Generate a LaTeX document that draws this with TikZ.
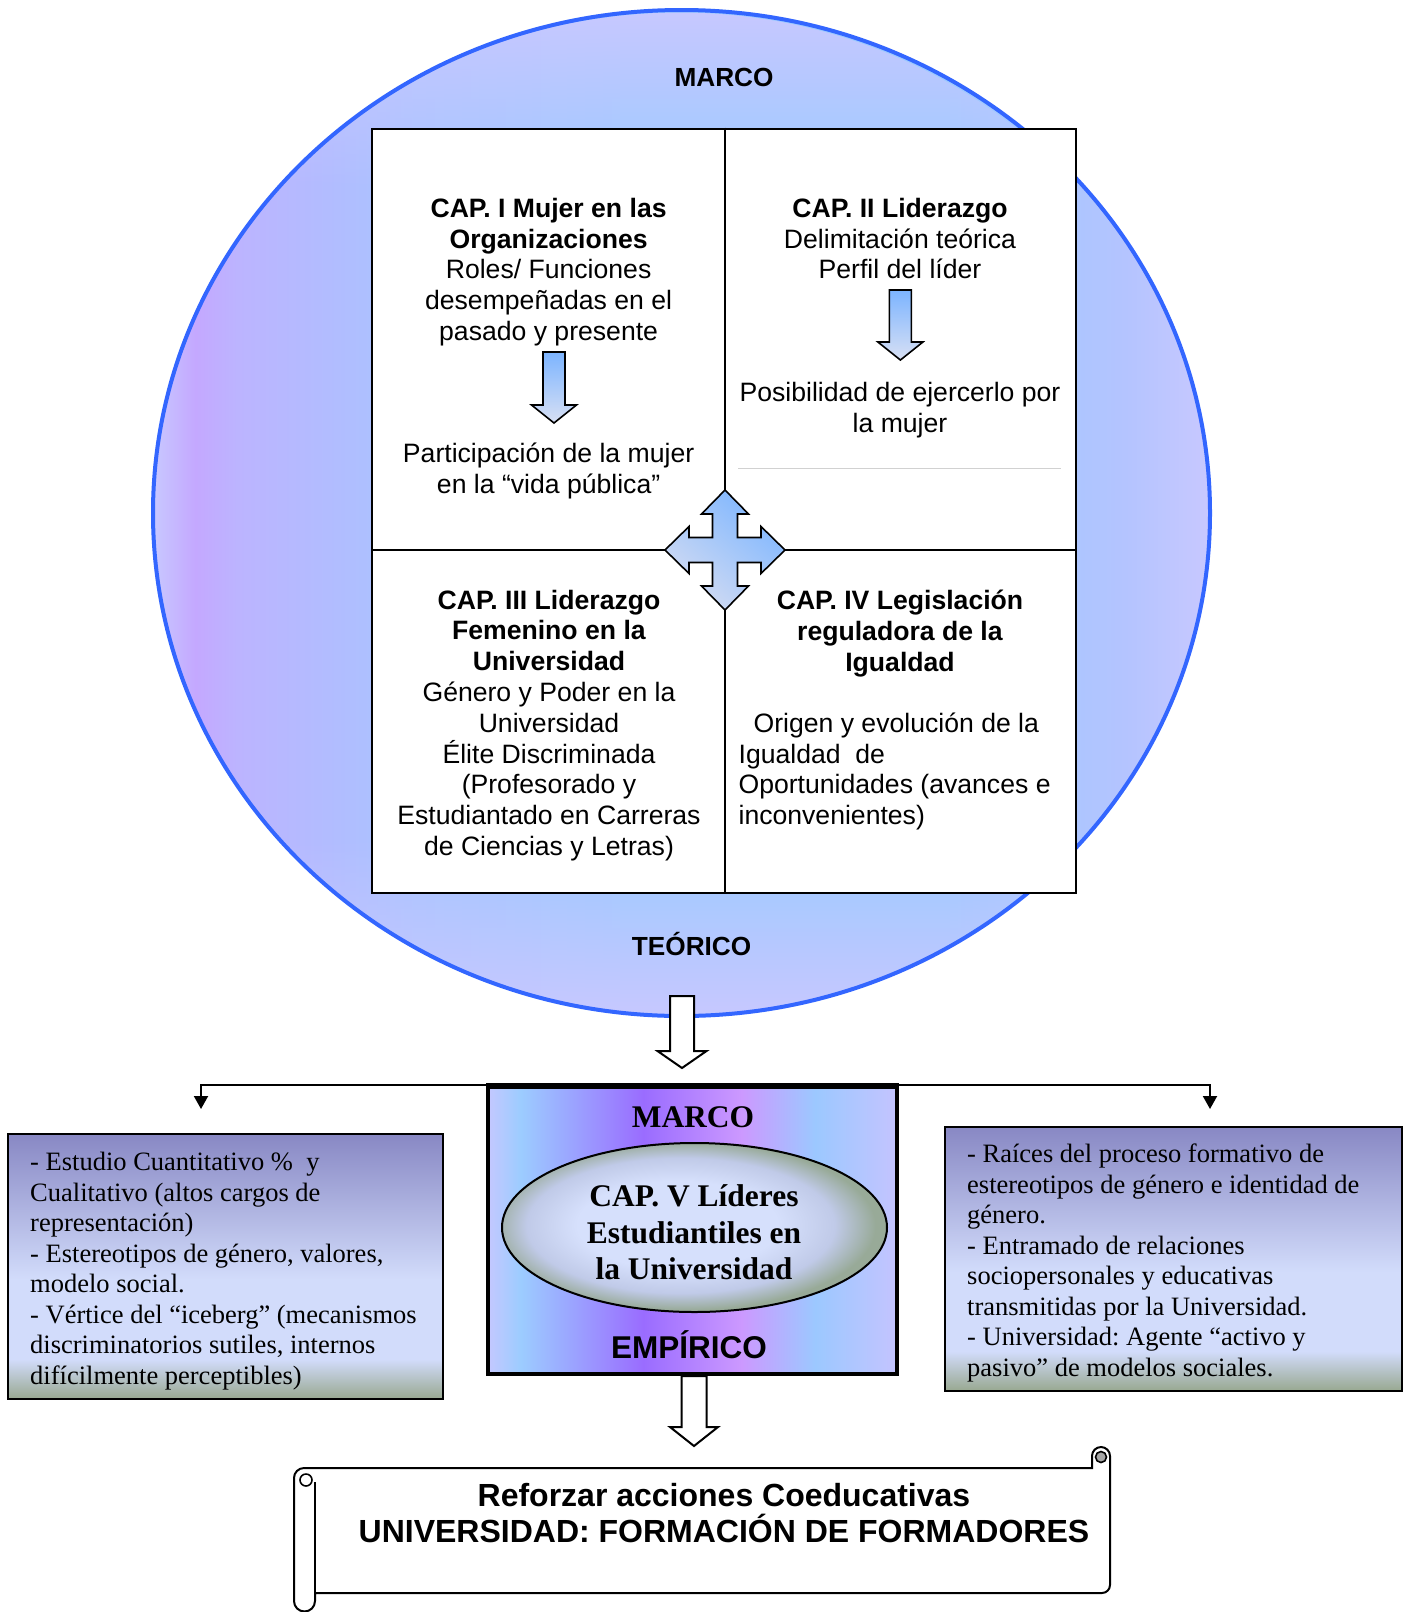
\documentclass[tikz,border=0pt]{standalone}
\usepackage{fontspec}
\setmainfont{Liberation Serif}
\newfontfamily\arialf{Liberation Sans}
\usetikzlibrary{shapes.geometric,arrows.meta,fadings}
\frenchspacing

% colours
\definecolor{rim}{HTML}{3366FF}
\definecolor{lavd}{HTML}{C8C8FF}
\definecolor{vio}{HTML}{C4A8FF}
\definecolor{vioa}{HTML}{BCB4FF}
\definecolor{blua}{HTML}{A8C4FF}
\definecolor{blub}{HTML}{9CCAFF}
\definecolor{bluc}{HTML}{B4C4FF}
\definecolor{eza}{HTML}{C4C8FF}
\definecolor{ezb}{HTML}{9CCCFF}
\definecolor{ezc}{HTML}{9A6CFF}
\definecolor{ezd}{HTML}{CC99FF}
\definecolor{eze}{HTML}{9CC8FF}
\definecolor{ezf}{HTML}{C4C4FF}
\definecolor{sda}{HTML}{98A890}
\definecolor{sdb}{HTML}{D2DCFB}
\definecolor{sdc}{HTML}{8888C4}
\definecolor{cpa}{HTML}{D6E0FC}
\definecolor{cpb}{HTML}{C0CAE8}
\definecolor{cpc}{HTML}{98AA98}
\definecolor{arrtop}{HTML}{7CB4FF}
\definecolor{arrbot}{HTML}{D8E0F4}
\definecolor{crlight}{HTML}{D4DCF2}
\definecolor{crblue}{HTML}{7EB6FF}

% background ring of the theoretical frame
\pgfdeclarehorizontalshading{marcoshade}{100bp}{color(0bp)=(lavd); color(25bp)=(lavd);
  color(27bp)=(vio); color(29bp)=(vioa); color(37.5bp)=(blua); color(47.5bp)=(blub);
  color(62.5bp)=(blub); color(71bp)=(bluc); color(75bp)=(lavd); color(100bp)=(lavd)}
\pgfdeclareverticalshading{marcofadeshade}{100bp}{color(0bp)=(white); color(25bp)=(white);
  color(34bp)=(black); color(66bp)=(black); color(75bp)=(white); color(100bp)=(white)}
\pgfdeclarefading{marcofade}{\pgfuseshading{marcofadeshade}}
% empirical frame box
\pgfdeclarehorizontalshading{empshade}{100bp}{color(0bp)=(eza); color(25bp)=(eza);
  color(29bp)=(ezb); color(44bp)=(ezc); color(56bp)=(ezd); color(65bp)=(eze);
  color(75bp)=(ezf); color(100bp)=(ezf)}
% side boxes
\pgfdeclareverticalshading{sideshade}{100bp}{color(0bp)=(sda); color(25bp)=(sda);
  color(32.5bp)=(sdb); color(47.5bp)=(sdb); color(75bp)=(sdc); color(100bp)=(sdc)}
% chapter V ellipse
\pgfdeclareradialshading{capshade}{\pgfpoint{-3bp}{1bp}}{color(0bp)=(cpa); color(13bp)=(cpa);
  color(20bp)=(cpb); color(25bp)=(cpc); color(50bp)=(cpc)}

\begin{document}
\begin{tikzpicture}[x=1pt,y=-1pt,
  celltxt/.style={font=\arialf\fontsize{26.6}{30.8}\selectfont, align=center, inner sep=0},
  celltxtl/.style={font=\arialf\fontsize{26.6}{30.8}\selectfont, align=left, inner sep=0},
  headsans/.style={font=\arialf\bfseries\fontsize{26.2}{30}\selectfont, inner sep=0},
  sidetxt/.style={font=\fontsize{26.5}{30.5}\selectfont, align=left, inner sep=0},
  sidebox/.style={draw, line width=2, shading=sideshade, inner sep=0},
  bluearrow/.style={draw, line width=1.6, top color=arrtop, bottom color=arrbot},
  whitearrow/.style={draw, line width=2, fill=white},
  conn/.style={line width=2, -{Triangle[width=14,length=13]}}]
\useasboundingbox (0,0) rectangle (1411,1612);

% ---------- theoretical frame (ellipse) ----------
\path[shading=marcoshade] (681.5,513) ellipse [x radius=528.5, y radius=503];
\fill[lavd, path fading=marcofade] (681.5,513) ellipse [x radius=528.5, y radius=503];
\draw[rim, line width=4] (681.5,513) ellipse [x radius=528.5, y radius=503];

\node[headsans, anchor=base] (marcoA) at (724,86.3) {MARCO};
\node[headsans, anchor=base] (teorico) at (691.6,955.5) {TEÓRICO};

% ---------- chapter table ----------
\node[draw, line width=2, fill=white, minimum width=703.4, minimum height=764, inner sep=0]
  (tbl) at (724,510.6) {};
\coordinate (mx) at (725,550);
\draw[line width=2] (tbl.north -| mx) -- (tbl.south -| mx);
\draw[line width=2] (tbl.west |- mx) -- (tbl.east |- mx);
\draw[black!18, line width=0.8] (738,468) -- (1061,468);

\node[celltxt] (c1a) at (548.6,272) {\textbf{CAP. I Mujer en las}\\\textbf{Organizaciones}\\Roles/ Funciones\\desempeñadas en el\\pasado y presente};
\node[celltxt] (c1b) at (548.6,471) {Participación de la mujer\\en la “vida pública”};
\node[celltxt] (c2a) at (900,238.5) {\textbf{CAP. II Liderazgo}\\Delimitación teórica\\Perfil del líder};
\node[celltxt] (c2b) at (900,410.5) {Posibilidad de ejercerlo por\\la mujer};
\node[celltxt] (c3) at (549,725.5) {\textbf{CAP. III Liderazgo}\\\textbf{Femenino en la}\\\textbf{Universidad}\\Género y Poder en la\\Universidad\\Élite Discriminada\\(Profesorado y\\Estudiantado en Carreras\\de Ciencias y Letras)};
\node[celltxt] (c4a) at (900,633.5) {\textbf{CAP. IV Legislación}\\\textbf{reguladora de la}\\\textbf{Igualdad}};
\node[celltxtl, anchor=west] (c4b) at (738.4,771.5) {\hspace*{15pt}Origen y evolución de la\\Igualdad\ \ de\\Oportunidades (avances e\\inconvenientes)};

% small arrows inside the upper cells
\path[bluearrow] (543,352) -- (565,352) -- (565,405) -- (576.5,405) -- (554,423)
  -- (531.5,405) -- (543,405) -- cycle;
\path[bluearrow] (889.4,290) -- (911.4,290) -- (911.4,342) -- (922.9,342) -- (900.4,360)
  -- (877.9,342) -- (889.4,342) -- cycle;

% four-way arrow at the table centre
\shade[draw, line width=1.6, top color=crblue, bottom color=crlight, shading angle=-40,
  shift={(mx)}]
  (0,-60) -- (23.5,-36) -- (12.5,-36) -- (12.5,-12.5) -- (36,-12.5) -- (36,-23.5)
  -- (60,0) -- (36,23.5) -- (36,12.5) -- (12.5,12.5) -- (12.5,36) -- (23.5,36)
  -- (0,60) -- (-23.5,36) -- (-12.5,36) -- (-12.5,12.5) -- (-36,12.5) -- (-36,23.5)
  -- (-60,0) -- (-36,-23.5) -- (-36,-12.5) -- (-12.5,-12.5) -- (-12.5,-36)
  -- (-23.5,-36) -- cycle;

% ---------- arrow down to the empirical frame ----------
\path[whitearrow] (670,996) -- (694,996) -- (694,1051) -- (706.5,1051) -- (682,1068)
  -- (657.5,1051) -- (670,1051) -- cycle;

% ---------- empirical frame ----------
\coordinate (lt) at (201,1109);
\coordinate (rt) at (1210,1109);
\node[draw, line width=4, shading=empshade, minimum width=409, minimum height=287, inner sep=0]
  (emp) at (692.5,1230.5) {};
\draw[conn] (emp.north) -| (lt);
\draw[conn] (emp.north) -| (rt);
\draw[line width=4] (emp.north west) -- (emp.north east);

\node[font=\bfseries\fontsize{31.5}{36}\selectfont, inner sep=0, anchor=base] (marcoB) at (693,1127.5) {MARCO};
\node[draw, line width=2, ellipse, shading=capshade, minimum width=385, minimum height=169, inner sep=0]
  (cap5) at (694.5,1227.5) {};
\node[font=\bfseries\fontsize{31.5}{36.5}\selectfont, align=center, inner sep=0] (cap5t) at (694,1232.5)
  {CAP. V Líderes\\Estudiantiles en\\la Universidad};
\node[font=\arialf\bfseries\fontsize{31.5}{36}\selectfont, inner sep=0, anchor=base] (empir) at (689,1358.3) {EMPÍRICO};

% ---------- side boxes ----------
\node[sidebox, minimum width=435, minimum height=265] (lbox) at (225.5,1266.5) {};
\node[sidetxt, anchor=west] (ltxt) at (30,1271) {- Estudio Cuantitativo \%\ \ y\\Cualitativo (altos cargos de\\representación)\\- Estereotipos de género, valores,\\modelo social.\\- Vértice del “iceberg” (mecanismos\\discriminatorios sutiles, internos\\difícilmente perceptibles)};

\node[sidebox, minimum width=457, minimum height=264] (rbox) at (1173.5,1259) {};
\node[sidetxt, anchor=west] (rtxt) at (967,1263) {- Raíces del proceso formativo de\\estereotipos de género e identidad de\\género.\\- Entramado de relaciones\\sociopersonales y educativas\\transmitidas por la Universidad.\\- Universidad: Agente “activo y\\pasivo” de modelos sociales.};

% ---------- arrow down to the scroll ----------
\path[whitearrow] (681.5,1376) -- (706.5,1376) -- (706.5,1427) -- (718,1427) -- (694,1446)
  -- (670,1427) -- (681.5,1427) -- cycle;

% ---------- closing scroll ----------
\draw[line width=2, fill=white] (294,1601) -- (294,1478) arc[start angle=180, end angle=270, radius=10]
  -- (1092,1468) -- (1092,1456) arc[start angle=180, end angle=360, radius=9]
  -- (1110,1585) arc[start angle=0, end angle=90, radius=8]
  -- (315,1593) -- (315,1601) arc[start angle=0, end angle=180, radius=10.5] -- cycle;
\draw[line width=2] (315,1593) -- (315,1482);
\draw[line width=1.6] (306,1480) circle (6);
\draw[line width=1.6, fill=black!35] (1101,1457) circle (5.5);

\node[font=\arialf\bfseries\fontsize{32}{36}\selectfont, align=center, inner sep=0] (scrolltxt) at (724,1513)
  {Reforzar acciones Coeducativas\\UNIVERSIDAD: FORMACIÓN DE FORMADORES};
\end{tikzpicture}
\end{document}
